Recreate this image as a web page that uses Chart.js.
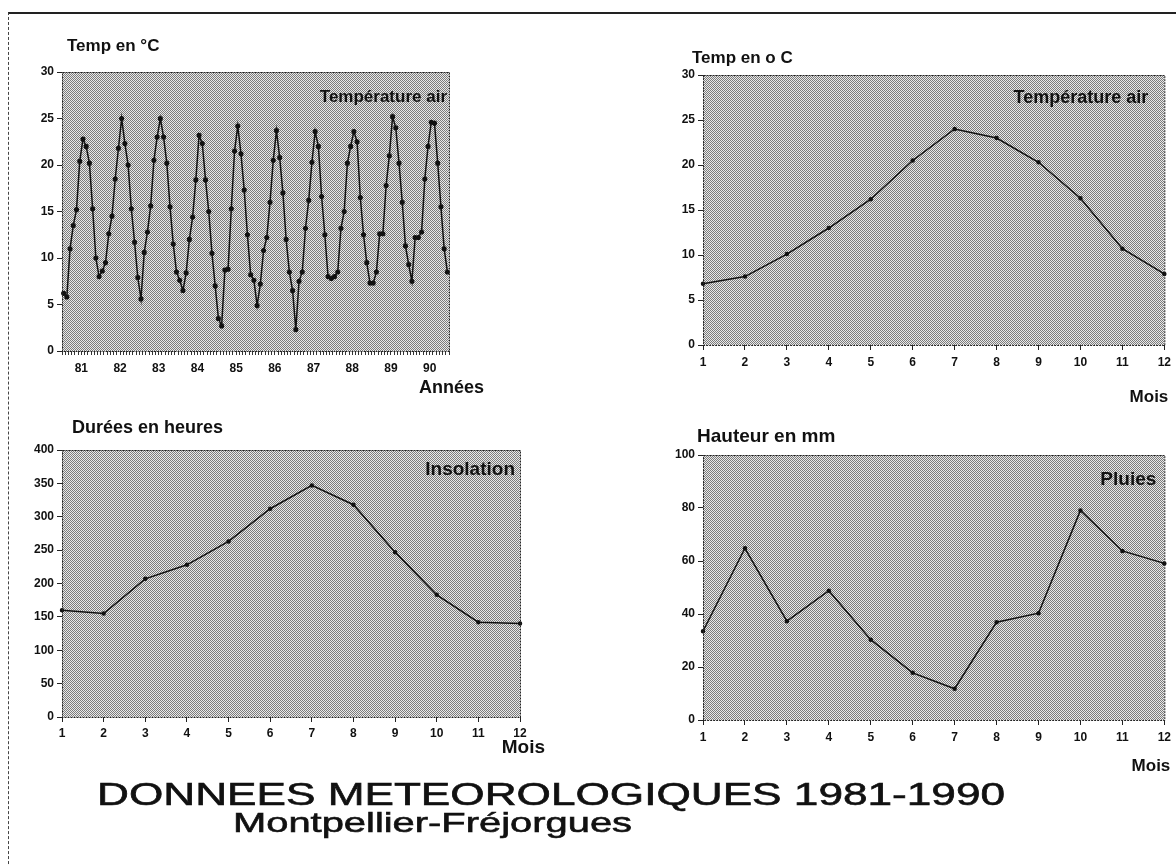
<!DOCTYPE html>
<html>
<head>
<meta charset="utf-8">
<script src="https://cdn.jsdelivr.net/npm/chart.js@4.4.1/dist/chart.umd.min.js"></script>
<style>
  body { margin: 0; background: #fff; }
  #page { position: relative; width: 1176px; height: 866px; overflow: hidden; background: #fff; }
  #frame { position: absolute; left: 8px; top: 12px; width: 1200px; height: 900px;
           border-top: 2px solid #222; border-left: 1px dashed #444; }
  canvas { position: absolute; }
  .big { position: absolute; font-family: "Liberation Sans", Arial, sans-serif; color: #111;
         white-space: nowrap; transform-origin: 0 50%; line-height: 1; -webkit-text-stroke: 0.6px #111; }
</style>
</head>
<body>
<div id="page">
  <div id="frame"></div>
  <canvas id="c1" width="560" height="400" style="left:0;top:20px"></canvas>
  <canvas id="c2" width="536" height="400" style="left:640px;top:20px"></canvas>
  <canvas id="c3" width="560" height="380" style="left:0;top:400px"></canvas>
  <canvas id="c4" width="536" height="380" style="left:640px;top:400px"></canvas>
  <div class="big" id="t1" style="left:97px;top:779px;font-size:31px">DONNEES METEOROLOGIQUES 1981-1990</div>
  <div class="big" id="t2" style="left:233px;top:809px;font-size:28px">Montpellier-Fréjorgues</div>
</div>
<script>
// monthly air temperature 1981-1990 (°C)
const tempMonthly = [
  6.2, 5.8, 11.0, 13.5, 15.2, 20.4, 22.8, 22.0, 20.2, 15.3, 10.0, 8.0,
  8.6, 9.5, 12.6, 14.5, 18.5, 21.8, 25.0, 22.3, 20.0, 15.3, 11.7, 7.9,
  5.6, 10.6, 12.8, 15.6, 20.5, 23.0, 25.0, 23.0, 20.2, 15.5, 11.5, 8.5,
  7.6, 6.5, 8.4, 12.0, 14.4, 18.4, 23.2, 22.3, 18.4, 15.0, 10.5, 7.0,
  3.5, 2.7, 8.7, 8.8, 15.3, 21.5, 24.2, 21.2, 17.3, 12.5, 8.2, 7.6,
  4.9, 7.2, 10.8, 12.2, 16.0, 20.5, 23.7, 20.8, 17.0, 12.0, 8.5, 6.5,
  2.3, 7.5, 8.5, 13.2, 16.2, 20.3, 23.6, 22.0, 16.6, 12.5, 8.0, 7.8,
  8.0, 8.5, 13.2, 15.0, 20.2, 22.0, 23.6, 22.5, 16.5, 12.5, 9.5, 7.3,
  7.3, 8.5, 12.6, 12.6, 17.8, 21.0, 25.2, 24.0, 20.2, 16.0, 11.3, 9.3,
  7.5, 12.2, 12.2, 12.8, 18.5, 22.0, 24.6, 24.5, 20.2, 15.5, 11.0, 8.5
];
const yearLabels = ['81', '82', '83', '84', '85', '86', '87', '88', '89', '90'];

const months = [1, 2, 3, 4, 5, 6, 7, 8, 9, 10, 11, 12];
const tempMean = [6.8, 7.6, 10.1, 13.0, 16.2, 20.5, 24.0, 23.0, 20.3, 16.3, 10.7, 7.9];
const insolation = [160, 155, 207, 228, 263, 312, 347, 318, 247, 183, 142, 140];
const rain = [33.5, 64.8, 37.3, 48.8, 30.3, 17.8, 11.8, 36.9, 40.3, 79.1, 63.8, 59.1];

const FONT = '"Liberation Sans", Arial, sans-serif';
const tickFont = { family: FONT, size: 12, weight: 'bold' };
const ink = '#111';

const framePlugin = {
  id: 'frame',
  beforeDraw(chart) {
    const { ctx, chartArea: a } = chart;
    const tile = document.createElement('canvas');
    tile.width = 2; tile.height = 2;
    const g = tile.getContext('2d');
    g.fillStyle = '#e9e9e9'; g.fillRect(0, 0, 2, 2);
    g.fillStyle = '#7c7c7c'; g.fillRect(0, 0, 1, 1); g.fillRect(1, 1, 1, 1);
    ctx.save();
    ctx.fillStyle = ctx.createPattern(tile, 'repeat');
    ctx.fillRect(a.left, a.top, a.right - a.left, a.bottom - a.top);
    ctx.restore();
  },
  afterDraw(chart, args, opts) {
    const { ctx, chartArea: a } = chart;
    ctx.save();
    ctx.strokeStyle = '#222';
    ctx.lineWidth = 1;
    ctx.setLineDash([2, 1]);
    ctx.strokeRect(a.left + 0.5, a.top + 0.5, a.right - a.left, a.bottom - a.top);
    ctx.setLineDash([]);
    ctx.fillStyle = ink;
    ctx.textBaseline = 'middle';
    (opts.texts || []).forEach(t => {
      ctx.font = 'bold ' + t.size + 'px ' + FONT;
      ctx.textAlign = t.align;
      ctx.fillText(t.text, a[t.ax] + t.dx, a[t.ay] + t.dy);
    });
    ctx.restore();
  }
};

function yAxis(max, step, width) {
  return {
    min: 0, max: max,
    ticks: { stepSize: step, color: ink, font: tickFont, padding: 3 },
    grid: { drawOnChartArea: false, drawTicks: true, tickLength: 5, color: '#222' },
    border: { display: false },
    afterFit(s) { s.width = width; }
  };
}

function monthAxis(height, pad) {
  return {
    type: 'linear', min: 1, max: 12,
    ticks: { stepSize: 1, color: ink, font: tickFont, padding: pad, maxRotation: 0, autoSkip: false },
    grid: { drawOnChartArea: false, drawTicks: true, tickLength: 5, color: '#222' },
    border: { display: false },
    afterFit(s) { s.height = height; }
  };
}

function lineSet(xs, ys, r) {
  return {
    data: ys.map((v, i) => ({ x: xs[i], y: v })),
    borderColor: ink, backgroundColor: ink, borderWidth: 1.5,
    pointRadius: r, pointHoverRadius: r, tension: 0, clip: false
  };
}

function make(id, dataset, xScale, yScale, padding, texts) {
  new Chart(document.getElementById(id), {
    type: 'line',
    data: { datasets: [dataset] },
    options: {
      responsive: false, animation: false, events: [],
      layout: { padding: padding, autoPadding: false },
      scales: { x: xScale, y: yScale },
      plugins: { legend: { display: false }, tooltip: { enabled: false }, frame: { texts: texts } }
    },
    plugins: [framePlugin]
  });
}

// chart 1 : ten years of monthly values
const monthIndex = tempMonthly.map((v, i) => i + 0.5);
make('c1', lineSet(monthIndex, tempMonthly, 1.8),
  {
    type: 'linear', min: 0, max: tempMonthly.length,
    afterBuildTicks(s) { s.ticks = Array.from({ length: tempMonthly.length + 1 }, (_, i) => ({ value: i })); },
    ticks: {
      color: ink, font: tickFont, padding: 6, maxRotation: 0, autoSkip: false,
      callback: v => (v % 12 === 6 ? yearLabels[(v - 6) / 12] : '')
    },
    grid: { drawOnChartArea: false, drawTicks: true, tickLength: 4, color: '#333' },
    border: { display: false },
    afterFit(s) { s.height = 69; }
  },
  yAxis(30, 5, 62),
  { top: 52, right: 111, left: 0, bottom: 0 },
  [
    { text: 'Temp en °C', size: 17, align: 'left', ax: 'left', dx: 5, ay: 'top', dy: -26 },
    { text: 'Température air', size: 17, align: 'right', ax: 'right', dx: -2, ay: 'top', dy: 25 },
    { text: 'Années', size: 18, align: 'right', ax: 'right', dx: 35, ay: 'bottom', dy: 37 }
  ]);

// chart 2 : mean monthly temperature
make('c2', lineSet(months, tempMean, 1.5), monthAxis(75, 5), yAxis(30, 5, 63),
  { top: 55, right: 8, left: 0, bottom: 0 },
  [
    { text: 'Temp en o C', size: 17, align: 'left', ax: 'left', dx: -11, ay: 'top', dy: -17 },
    { text: 'Température air', size: 18, align: 'right', ax: 'right', dx: -16, ay: 'top', dy: 23 },
    { text: 'Mois', size: 17, align: 'right', ax: 'right', dx: 4, ay: 'bottom', dy: 52 }
  ]);

// chart 3 : sunshine duration
make('c3', lineSet(months, insolation, 1.5), monthAxis(63, 4), yAxis(400, 50, 62),
  { top: 50, right: 40, left: 0, bottom: 0 },
  [
    { text: 'Durées en heures', size: 18, align: 'left', ax: 'left', dx: 10, ay: 'top', dy: -22 },
    { text: 'Insolation', size: 19, align: 'right', ax: 'right', dx: -5, ay: 'top', dy: 20 },
    { text: 'Mois', size: 19, align: 'right', ax: 'right', dx: 25, ay: 'bottom', dy: 31 }
  ]);

// chart 4 : rainfall
make('c4', lineSet(months, rain, 1.5), monthAxis(60, 5), yAxis(100, 20, 63),
  { top: 55, right: 6, left: 0, bottom: 0 },
  [
    { text: 'Hauteur en mm', size: 19, align: 'left', ax: 'left', dx: -6, ay: 'top', dy: -18 },
    { text: 'Pluies', size: 19, align: 'right', ax: 'right', dx: -8, ay: 'top', dy: 25 },
    { text: 'Mois', size: 17, align: 'right', ax: 'right', dx: 6, ay: 'bottom', dy: 46 }
  ]);

// stretch the big titles to their width in the picture
function stretch(id, target) {
  const el = document.getElementById(id);
  const m = document.createElement('canvas').getContext('2d');
  m.font = getComputedStyle(el).fontSize + ' ' + FONT;
  el.style.transform = 'scaleX(' + (target / m.measureText(el.textContent).width) + ')';
}
stretch('t1', 908);
stretch('t2', 399);
</script>
</body>
</html>
